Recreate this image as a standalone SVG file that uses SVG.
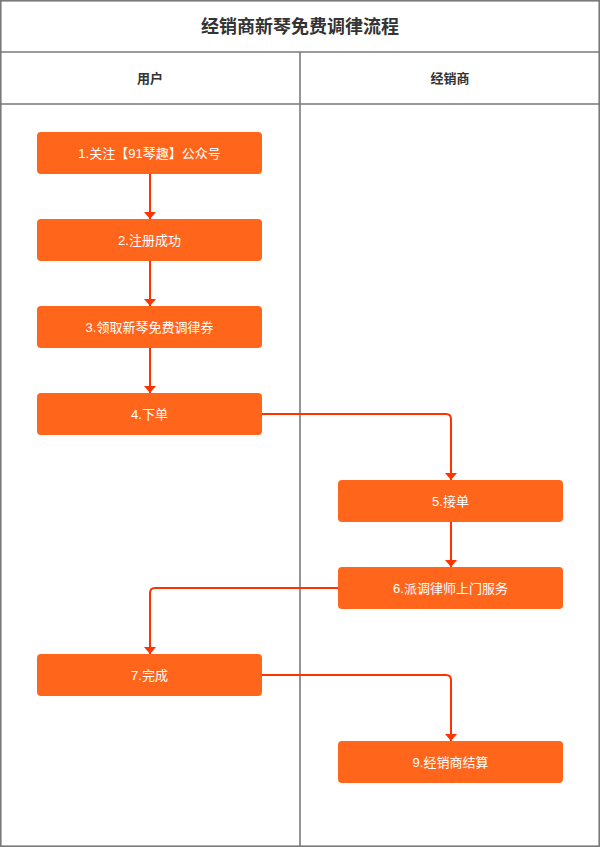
<svg xmlns="http://www.w3.org/2000/svg" width="600" height="847" viewBox="0 0 600 847">
<style>
.frame{fill:none;stroke:#7a7a7a;stroke-width:1.6}
.node rect{fill:#FF661C}
.node text{fill:#fff;font-family:"Liberation Sans","Noto Sans CJK SC",sans-serif;font-size:13px;text-anchor:middle}
.hdr{fill:#333;font-family:"Noto Sans CJK SC","Liberation Sans",sans-serif;font-weight:bold;text-anchor:middle}
.edge{fill:none;stroke:#FF3300;stroke-width:2;marker-end:url(#arr)}
</style>
<defs>
<marker id="arr" markerWidth="7" markerHeight="12" refX="7" refY="6" orient="auto" markerUnits="userSpaceOnUse" viewBox="0 0 7 12">
<path d="M0,0 L7,6 L0,12 Z" fill="#FF3300"/>
</marker>
</defs>
<rect x="0" y="0" width="600" height="847" fill="#fff"/>
<g id="frame">
<rect class="frame" x="0.8" y="0.8" width="598.4" height="845.4"/>
<line class="frame" x1="0" y1="52" x2="600" y2="52"/>
<line class="frame" x1="0" y1="104" x2="600" y2="104"/>
<line class="frame" x1="300" y1="52" x2="300" y2="847"/>
<text class="hdr" x="300" y="33" font-size="18">经销商新琴免费调律流程</text>
<text class="hdr" x="150" y="83" font-size="13">用户</text>
<text class="hdr" x="450" y="83" font-size="13">经销商</text>
</g>
<g id="connectors">
<path class="edge" d="M150,174 V219"/>
<path class="edge" d="M150,261 V306"/>
<path class="edge" d="M150,348 V393"/>
<path class="edge" d="M262,414 H446 Q451,414 451,419 V480"/>
<path class="edge" d="M451,522 V567"/>
<path class="edge" d="M338,588 H155 Q150,588 150,593 V654"/>
<path class="edge" d="M262,675 H446 Q451,675 451,680 V741"/>
</g>
<g id="n1" class="node"><rect x="37" y="132" width="225" height="42" rx="4"/><text x="149.5" y="158">1.关注【91琴趣】公众号</text></g>
<g id="n2" class="node"><rect x="37" y="219" width="225" height="42" rx="4"/><text x="149.5" y="245">2.注册成功</text></g>
<g id="n3" class="node"><rect x="37" y="306" width="225" height="42" rx="4"/><text x="149.5" y="332">3.领取新琴免费调律券</text></g>
<g id="n4" class="node"><rect x="37" y="393" width="225" height="42" rx="4"/><text x="149.5" y="419">4.下单</text></g>
<g id="n5" class="node"><rect x="338" y="480" width="225" height="42" rx="4"/><text x="450.5" y="506">5.接单</text></g>
<g id="n6" class="node"><rect x="338" y="567" width="225" height="42" rx="4"/><text x="450.5" y="593">6.派调律师上门服务</text></g>
<g id="n7" class="node"><rect x="37" y="654" width="225" height="42" rx="4"/><text x="149.5" y="680">7.完成</text></g>
<g id="n9" class="node"><rect x="338" y="741" width="225" height="42" rx="4"/><text x="450.5" y="767">9.经销商结算</text></g>
</svg>
